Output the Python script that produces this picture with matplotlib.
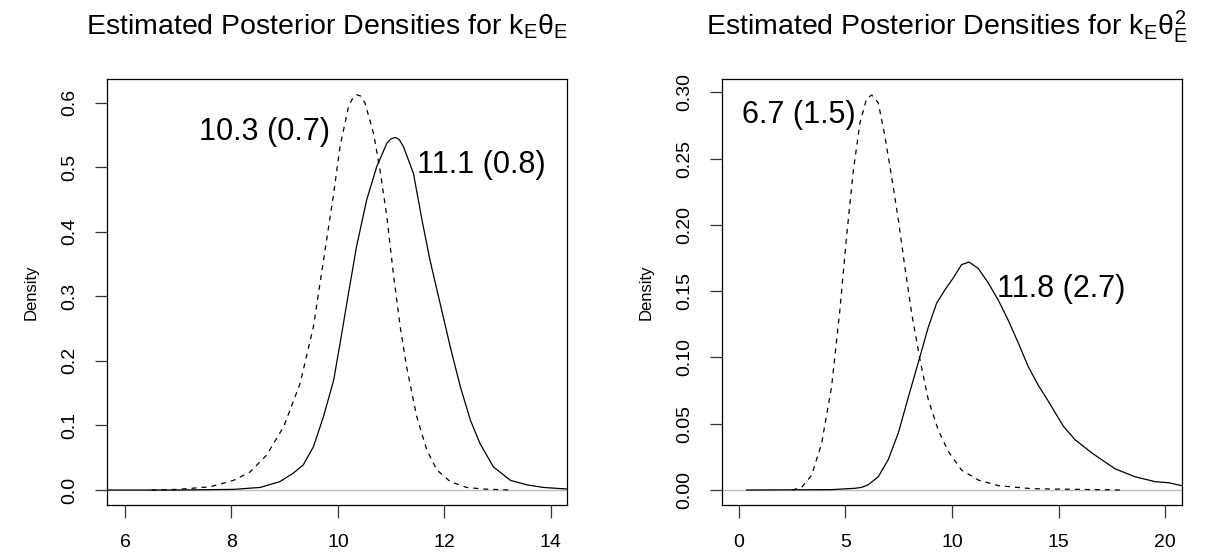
import matplotlib
matplotlib.use("Agg")
import matplotlib.pyplot as plt

plt.rcParams['font.family'] = ['Liberation Sans', 'DejaVu Sans']
plt.rcParams['mathtext.fontset'] = 'custom'
plt.rcParams['mathtext.rm'] = 'Liberation Sans'
plt.rcParams['mathtext.it'] = 'Liberation Sans'
plt.rcParams['mathtext.sf'] = 'Liberation Sans'

# left panel: k_E * theta_E
left_dash_x = [6.5, 7.0, 7.6, 8.04, 8.35, 8.66, 8.98, 9.29, 9.54, 9.73, 9.92, 10.04, 10.2, 10.28,
               10.35, 10.43, 10.51, 10.67, 10.79, 10.92, 11.04, 11.17, 11.29, 11.48, 11.67, 11.86,
               12.11, 12.42, 12.74, 13.24]
left_dash_y = [0.0, 0.001, 0.005, 0.015, 0.028, 0.054, 0.098, 0.165, 0.253, 0.356, 0.459, 0.532, 0.594, 0.607,
               0.612, 0.610, 0.599, 0.552, 0.496, 0.423, 0.336, 0.253, 0.191, 0.114, 0.062, 0.031,
               0.013, 0.004, 0.0015, 0.0]
left_solid_x = [5.67, 7.0, 8.04, 8.54, 8.91, 9.16, 9.35, 9.54, 9.73, 9.92, 10.04, 10.2, 10.35,
                10.54, 10.73, 10.92, 11.0, 11.08, 11.15, 11.23, 11.42, 11.58, 11.73, 11.92, 12.11, 12.3,
                12.49, 12.67, 12.92, 13.24, 13.55, 13.86, 14.31]
left_solid_y = [0.0, 0.0, 0.001, 0.004, 0.013, 0.026, 0.039, 0.067, 0.114, 0.170, 0.227, 0.305, 0.377,
                0.449, 0.501, 0.537, 0.544, 0.546, 0.543, 0.532, 0.490, 0.418, 0.356, 0.289, 0.222, 0.160,
                0.108, 0.072, 0.036, 0.015, 0.008, 0.004, 0.0015]
left_labels = ["10.3 (0.7)", "11.1 (0.8)"]

# right panel: k_E * theta_E^2
right_dash_x = [2.5, 2.94, 3.41, 3.88, 4.35, 4.74, 5.05, 5.37, 5.68, 5.99, 6.23, 6.54, 6.85,
                7.17, 7.48, 7.79, 8.11, 8.5, 8.89, 9.36, 9.83, 10.45, 11.24, 12.18, 13.74, 17.97]
right_dash_y = [0.0, 0.002, 0.011, 0.035, 0.078, 0.136, 0.191, 0.241, 0.277, 0.295, 0.298, 0.292, 0.267,
                0.236, 0.204, 0.168, 0.133, 0.098, 0.068, 0.045, 0.029, 0.015, 0.0075, 0.0033, 0.001, 0.0]
right_solid_x = [0.36, 4.35, 5.45, 5.76, 6.07, 6.23, 6.54, 7.01, 7.48, 7.95, 8.45, 8.89, 9.28, 9.67,
                 10.06, 10.45, 10.8, 11.24, 11.71, 12.18, 12.64, 13.11, 13.58, 14.05, 14.52,
                 15.23, 15.77, 16.56, 17.65, 18.59, 19.53, 20.16, 20.78]
right_solid_y = [0.0, 0.0003, 0.0013, 0.002, 0.004, 0.006, 0.010, 0.023, 0.043, 0.070, 0.098, 0.123, 0.141, 0.151,
                 0.160, 0.170, 0.172, 0.167, 0.156, 0.143, 0.128, 0.111, 0.093, 0.079, 0.067,
                 0.048, 0.038, 0.028, 0.016, 0.010, 0.0063, 0.0055, 0.0033]
right_labels = ["6.7 (1.5)", "11.8 (2.7)"]

W, H = 1219, 555
fig = plt.figure(figsize=(W / 100, H / 100), dpi=100)
ax1 = fig.add_axes([107.3 / W, (H - 505) / H, 460 / W, 425.7 / H])
ax2 = fig.add_axes([722.3 / W, (H - 505) / H, 459.4 / W, 425.7 / H])

def style(ax):
    ax.axhline(0, color='#BEBEBE', lw=1.0, zorder=1)
    ax.tick_params(direction='out', length=9, width=0.9, labelsize=14, pad=12, color='#333333')
    for t in ax.get_yticklabels():
        t.set_rotation(90)
        t.set_va('center')
    for s in ax.spines.values():
        s.set_linewidth(0.9)
    ax.set_ylabel('Density', fontsize=12, labelpad=16)

ax1.plot(left_dash_x, left_dash_y, color='black', lw=0.9, dashes=(4, 4), zorder=2)
ax1.plot(left_solid_x, left_solid_y, color='black', lw=0.9, zorder=3)
ax1.set_xlim(5.667, 14.31)
ax1.set_ylim(-0.0232, 0.636)
ax1.set_xticks([6, 8, 10, 12, 14])
ax1.set_yticks([0.0, 0.1, 0.2, 0.3, 0.4, 0.5, 0.6])
ax1.set_yticklabels(['0.0', '0.1', '0.2', '0.3', '0.4', '0.5', '0.6'])
style(ax1)
ax1.text(9.85, 0.555, left_labels[0], ha='right', va='center', fontsize=22)
ax1.text(11.48, 0.503, left_labels[1], ha='left', va='center', fontsize=22)

ax2.plot(right_dash_x, right_dash_y, color='black', lw=0.9, dashes=(4, 4), zorder=2)
ax2.plot(right_solid_x, right_solid_y, color='black', lw=0.9, zorder=3)
ax2.set_xlim(-0.78, 20.78)
ax2.set_ylim(-0.0113, 0.3098)
ax2.set_xticks([0, 5, 10, 15, 20])
ax2.set_yticks([0.0, 0.05, 0.10, 0.15, 0.20, 0.25, 0.30])
ax2.set_yticklabels(['0.00', '0.05', '0.10', '0.15', '0.20', '0.25', '0.30'])
style(ax2)
ax2.text(5.48, 0.283, right_labels[0], ha='right', va='center', fontsize=22)
ax2.text(12.1, 0.152, right_labels[1], ha='left', va='center', fontsize=22)

fig.text(327 / W, 1 - 27 / H, r'Estimated Posterior Densities for $k_E\theta_E$',
         ha='center', va='center', fontsize=20.5)
fig.text(947 / W, 1 - 27 / H, r'Estimated Posterior Densities for $k_E\theta_E^2$',
         ha='center', va='center', fontsize=20.5)

fig.savefig('out.png', dpi=100)
